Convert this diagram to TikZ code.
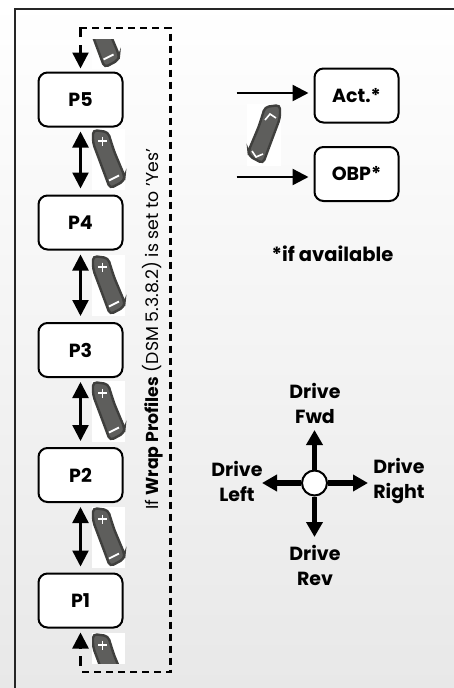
\documentclass[tikz,border=0pt]{standalone}
\usepackage{fontspec}
\setmainfont{Poppins}
\usepackage{xcolor}
\usetikzlibrary{arrows.meta,calc}
\definecolor{rockerdark}{HTML}{3F3F3D}
\definecolor{rockergray}{HTML}{5E5E5C}
\tikzset{
  profbox/.style={draw=black, line width=2pt, rounded corners=9pt, fill=white, minimum width=84pt, minimum height=54pt, inner sep=0pt, font=\fontsize{19}{19}\selectfont\bfseries},
  bigtip/.style={line width=2.4pt, -{Triangle[length=16pt,width=16pt]}},
  bothtip/.style={line width=2.4pt, {Triangle[length=16pt,width=16pt]}-{Triangle[length=16pt,width=16pt]}},
  drivetip/.style={line width=5.5pt, -{Triangle[length=15pt,width=16pt]}},
  wrapline/.style={line width=2.2pt, dash pattern=on 7pt off 5pt},
  shortdash/.style={line width=2.2pt},
  lab/.style={font=\fontsize{19}{19}\selectfont\bfseries, inner sep=0pt},
}
\newcommand{\rockerbody}[1]{% x scale
  \begin{scope}[xscale=#1]
    \draw[fill=rockergray, draw=rockerdark, line width=2.4pt, rounded corners=4pt]
      (1,1) -- (16,3) -- (22,22) -- (32.5,47) -- (32,52) -- (18,59.5) -- (10,38) -- (1,14) -- cycle;
  \end{scope}
}
\newcommand{\rocker}[2]{% x,y
  \begin{scope}[shift={(#1,#2)}]
    \fill[white] (0,0) rectangle (33,61);
    \rockerbody{1}
    \draw[white, line width=1.8pt] (6,12) -- (15,12) (10.5,7.5) -- (10.5,16.5);
    \draw[white, line width=1.8pt] (17,51.5) -- (27,46.5);
  \end{scope}
}

\begin{document}
\begin{tikzpicture}[x=1pt,y=-1pt]
\useasboundingbox (0,0) rectangle (454,688);

% page fades down, frame runs off it on two sides
\shade[top color=white, middle color=black!3, bottom color=black!9] (0,0) rectangle (454,688);
\draw[line width=2pt, black!85] (14.5,688) -- (14.5,9) -- (454,9);

% profile boxes
\node[profbox] (p5) at (80.5,99.5) {P5};
\node[profbox] (p4) at (80.5,222.5) {P4};
\node[profbox] (p3) at (80.5,350) {P3};
\node[profbox] (p2) at (80.5,475) {P2};
\node[profbox] (p1) at (80.5,600.5) {P1};

% rockers beside the arrows
\rocker{92}{129}
\rocker{92}{255}
\rocker{92}{381}
\rocker{92}{507}
\begin{scope}
  \clip (92,39) rectangle (125,69);
  \rocker{86.5}{8}
\end{scope}
\begin{scope}
  \clip (92,633) rectangle (125,663);
  \rocker{92}{633}
\end{scope}

% steps between profiles
\foreach \a/\b in {p5/p4, p4/p3, p3/p2, p2/p1} {
  \draw[bothtip, shorten <=4pt, shorten >=6pt] (\a) -- (\b);
}

% wrap round
\coordinate (wraptop) at (80.5,28);
\coordinate (wrapright) at (170.5,28);
\coordinate (wrapdown) at (170.5,672);
\coordinate (wrapbottom) at (80.5,672);
\draw[shortdash] (80.5,37) -- (wraptop) -- (87,28);
\draw[wrapline] (92,28) -- (wrapright) -- (wrapdown) -- (wrapbottom);
\draw[shortdash] (80.5,666) -- (80.5,656);
\draw[bigtip, shorten >=3pt] (80.5,45) -- (p5);
\draw[bigtip, shorten >=4pt] (80.5,649) -- (p1);
\node[rotate=90, font=\fontsize{17.3}{17.3}\selectfont, inner sep=0pt] (wraplab) at (153,329.5) {If \textbf{Wrap Profiles} (DSM 5.3.8.2) is set to 'Yes'};

% actuator and back pressure
\node[profbox] (act) at (356.5,95.5) {Act.*};
\node[profbox] (obp) at (356.5,174) {OBP*};
\coordinate (actin) at (236.5,93);
\coordinate (obpin) at (236.5,177);
\draw[bigtip, shorten >=5pt] (actin) -- (actin -| act.west);
\draw[bigtip, shorten >=5pt] (obpin) -- (obpin -| obp.west);
\begin{scope}[shift={(281,104)}]
  \fill[white] (-34,0) rectangle (0,62);
  \rockerbody{-1}
  \draw[white, line width=1.6pt] (-16,16) -- (-11,10) -- (-5,14);
  \draw[white, line width=1.6pt] (-29,47) -- (-25,53) -- (-18,50);
\end{scope}
\node[lab, font=\fontsize{19.5}{19.5}\selectfont\bfseries] (note) at (332.5,254) {*if available};

% drive directions
\node[draw=black, line width=2pt, fill=white, circle, minimum size=25pt, inner sep=0pt] (hub) at (314.5,483) {};
\coordinate (fwd) at (314.5,430);
\coordinate (rev) at (314.5,537);
\coordinate (left) at (262,483);
\coordinate (right) at (368,483);
\foreach \d in {fwd, rev, left, right} {
  \draw[drivetip] (hub) -- (\d);
}
\node[lab, align=center] (fwdlab) at (315,403) {Drive\\[6pt]Fwd};
\node[lab, align=center] (leftlab) at (237,481) {Drive\\[6pt]Left};
\node[lab, align=center] (rightlab) at (399,481) {Drive\\[6pt]Right};
\node[lab, align=center] (revlab) at (315,565) {Drive\\[6pt]Rev};

\end{tikzpicture}
\end{document}
